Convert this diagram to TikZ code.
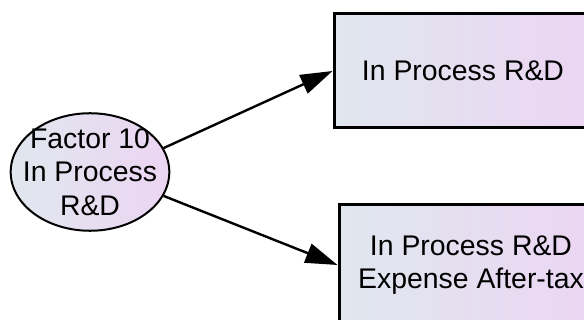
\documentclass[tikz,border=0pt]{standalone}
\usepackage{fontspec}
\setmainfont{Liberation Sans}
\usetikzlibrary{arrows.meta,shapes.geometric}
\definecolor{semleft}{RGB}{224,231,238}
\definecolor{semright}{RGB}{236,213,243}

\begin{document}
\begin{tikzpicture}[x=0.5pt,y=-0.5pt,
    factor/.style={ellipse, draw, line width=1pt, left color=semleft, right color=semright,
        inner xsep=-5.5pt, inner ysep=-1pt, align=center,
        font=\fontsize{14.2}{16.75}\selectfont},
    observed/.style={rectangle, draw, line width=1.5pt, left color=semleft, right color=semright,
        minimum height=57pt, align=center, font=\fontsize{14.2}{16.75}\selectfont},
    loading/.style={line width=1.2pt, -{Triangle[length=16pt,width=10pt]}}]
    % Frame
    \useasboundingbox (0,0) rectangle (584,320);
    \clip (0,0) rectangle (584,320);

    % Latent factor
    \node[factor] (f10) at (90,172) {Factor 10\\In Process\\R\&D};

    % Observed variables
    \node[observed, minimum width=129pt] (rdbox) at (463,71) {In Process R\&D};
    \node[observed, minimum width=132pt, minimum height=60pt] (rdexp) at (471,265) {In Process R\&D\\Expense After-tax};

    % Loadings
    \draw[loading] (f10.18) -- (rdbox.west);
    \draw[loading] (f10.-18) -- (rdexp.west);
\end{tikzpicture}
\end{document}
